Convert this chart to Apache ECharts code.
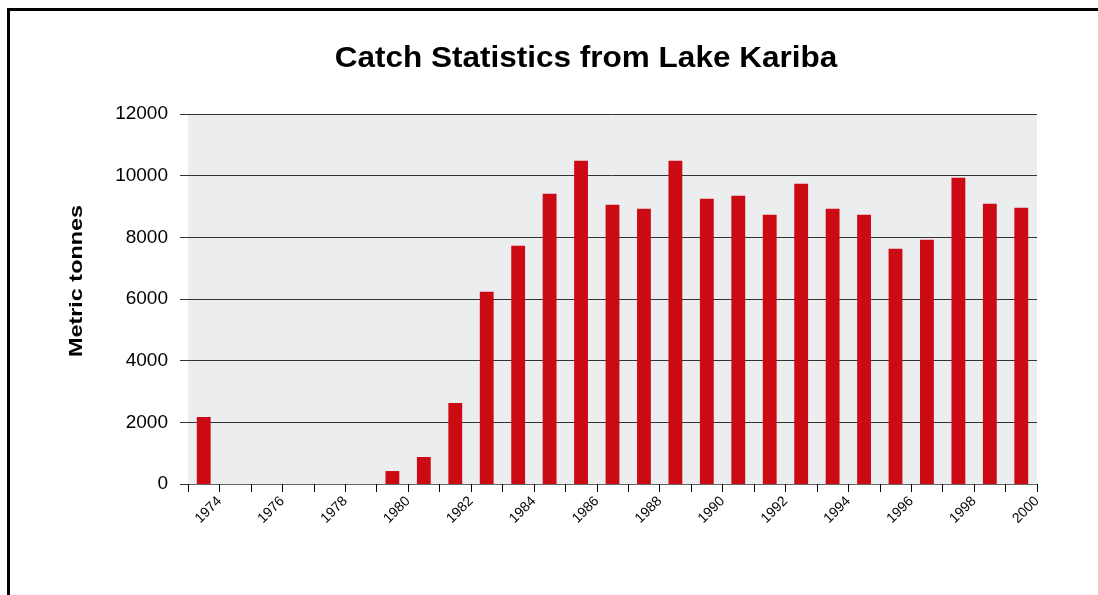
<!DOCTYPE html>
<html>
<head>
<meta charset="utf-8">
<script src="https://cdn.jsdelivr.net/npm/echarts@6/dist/echarts.min.js"></script>
<style>
  html, body { margin: 0; padding: 0; background: #fff; }
  #wrap { position: relative; width: 1098px; height: 595px; overflow: hidden; }
  #chart { position: absolute; left: 0; top: 0; width: 1098px; height: 595px; }
  #frame { position: absolute; left: 7px; top: 8px; width: 1200px; height: 700px;
           border-top: 3px solid #000; border-left: 3px solid #000; pointer-events: none; }
</style>
</head>
<body>
<div id="wrap">
  <div id="chart"></div>
  <div id="frame"></div>
</div>
<script>
const titleText = 'Catch Statistics from Lake Kariba';
const yAxisTitle = 'Metric tonnes';
const years = [1974, 1975, 1976, 1977, 1978, 1979, 1980, 1981, 1982, 1983, 1984, 1985, 1986, 1987,
               1988, 1989, 1990, 1991, 1992, 1993, 1994, 1995, 1996, 1997, 1998, 1999, 2000];
const catchTonnes = [2175, null, null, null, null, null, 420, 876, 2630, 6233, 7726, 9414, 10486, 9057,
                     8927, 10486, 9252, 9349, 8733, 9739, 8927, 8733, 7629, 7921, 9934, 9090, 8960];
const yTicks = { min: 0, max: 12000, interval: 2000 };
// labels sit at the right edge of every even year's slot
const boundaryLabels = [''].concat(years.map(y => (y % 2 === 0 ? String(y) : '')));

const font = '"Liberation Sans", Arial, Helvetica, sans-serif';
const chart = echarts.init(document.getElementById('chart'), null, { renderer: 'canvas' });
chart.setOption({
  animation: false,
  backgroundColor: '#ffffff',
  graphic: [
    {
      type: 'text', x: 586, y: 59, scaleX: 1.05, scaleY: 1,
      style: { text: titleText, font: 'bold 30px ' + font, fill: '#000',
               textAlign: 'center', textVerticalAlign: 'middle' }
    },
    {
      type: 'text', x: 77, y: 281, rotation: Math.PI / 2, scaleX: 1.3, scaleY: 1,
      style: { text: yAxisTitle, font: 'bold 18px ' + font, fill: '#000',
               textAlign: 'center', textVerticalAlign: 'middle' }
    }
  ],
  grid: {
    left: 188, right: 61, top: 114, bottom: 111,
    show: true, backgroundColor: '#ECEDEF', borderWidth: 0
  },
  xAxis: [
    {
      type: 'category',
      data: years.map(String),
      boundaryGap: true,
      axisLine: { show: true, lineStyle: { color: '#666', width: 1 } },
      axisTick: { show: true, interval: 0, length: 8, lineStyle: { color: '#000', width: 1 } },
      axisLabel: { show: false }
    },
    {
      type: 'category',
      data: boundaryLabels,
      boundaryGap: false,
      position: 'bottom',
      axisLine: { show: false },
      axisTick: { show: false },
      axisLabel: {
        show: true, interval: 0, rotate: 45, margin: 15,
        fontFamily: font, fontSize: 14, color: '#000'
      }
    }
  ],
  yAxis: {
    type: 'value',
    min: yTicks.min, max: yTicks.max, interval: yTicks.interval,
    axisLine: { show: false },
    axisTick: { show: true, length: 8, lineStyle: { color: '#333', width: 1 } },
    axisLabel: { fontFamily: font, fontSize: 19, color: '#000', margin: 20,
                 formatter: v => String(v) },
    splitLine: { show: true, lineStyle: { color: '#333', width: 1 } }
  },
  series: [{
    type: 'bar',
    xAxisIndex: 0,
    data: catchTonnes,
    barWidth: '44%',
    itemStyle: { color: '#CC0A14' }
  }]
});
</script>
</body>
</html>
